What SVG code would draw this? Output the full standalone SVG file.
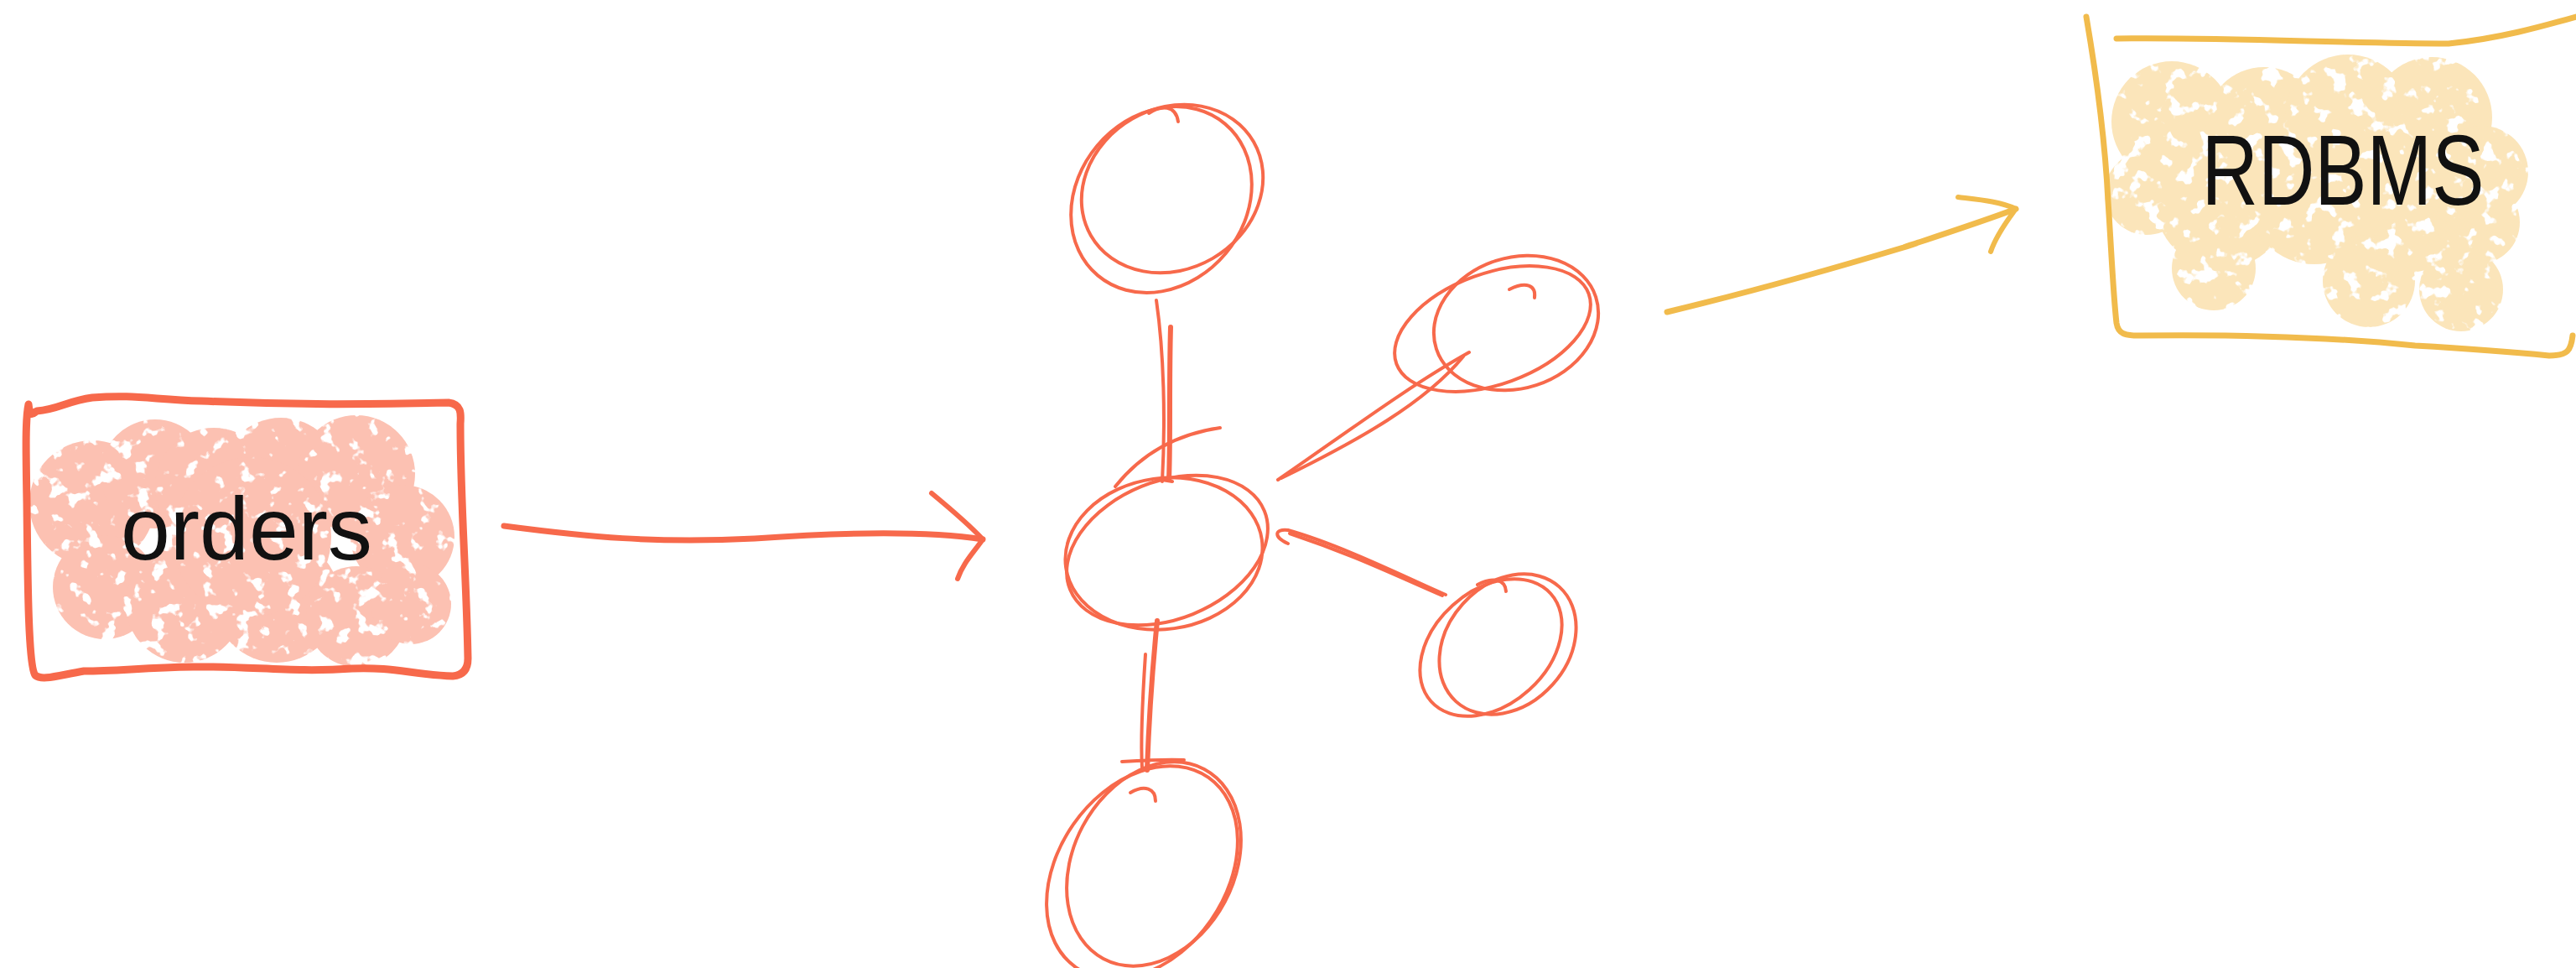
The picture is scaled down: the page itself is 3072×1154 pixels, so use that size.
<svg xmlns="http://www.w3.org/2000/svg" width="3072" height="1154" viewBox="0 0 3072 1154">
<style>
.red{fill:none;stroke:#f7694b;stroke-linecap:round;stroke-linejoin:round}
.yel{fill:none;stroke:#f1bb4c;stroke-linecap:round;stroke-linejoin:round}
.thin{stroke-width:4}
.lbl{font-family:"Liberation Sans",Arial,sans-serif;fill:#111;text-anchor:middle}
</style>
<defs>
<filter id="rough" x="-5%" y="-5%" width="110%" height="110%">
<feTurbulence type="fractalNoise" baseFrequency="0.05" numOctaves="3" seed="7" result="n"/>
<feColorMatrix in="n" type="matrix" values="0 0 0 0 0  0 0 0 0 0  0 0 0 0 0  -16 0 0 0 10.6" result="m"/>
<feComposite in="SourceGraphic" in2="m" operator="in"/>
</filter>
</defs>
<rect width="3072" height="1154" fill="#fff"/>

<g id="orders">
<g fill="#fcc1b2" filter="url(#rough)">
<circle cx="110" cy="600" r="75"/><circle cx="185" cy="565" r="65"/><circle cx="255" cy="580" r="70"/>
<circle cx="335" cy="570" r="72"/><circle cx="425" cy="565" r="70"/><circle cx="480" cy="640" r="62"/>
<circle cx="125" cy="700" r="62"/><circle cx="220" cy="720" r="70"/><circle cx="330" cy="715" r="75"/>
<circle cx="425" cy="735" r="60"/><circle cx="490" cy="720" r="48"/><circle cx="300" cy="640" r="95"/>
</g>
<path class="red" stroke-width="9" d="M34 482 C36 500 40 492 44 490 C70 488 80 478 110 474 C160 470 180 476 240 478 C350 483 440 482 535 480 C550 482 550 492 549 505 C549 600 556 680 558 785 C558 798 552 805 540 806 C490 804 470 795 420 797 C350 802 300 794 230 795 C170 796 140 800 100 800 C70 805 50 812 42 805 C34 795 33 700 32 600 C31 540 30 500 34 482"/>
<text class="lbl" x="294" y="667" font-size="106" textLength="300" lengthAdjust="spacingAndGlyphs">orders</text>
</g>

<g id="rdbms">
<g fill="#fbe5ba" filter="url(#rough)">
<circle cx="2590" cy="145" r="72"/><circle cx="2700" cy="150" r="70"/><circle cx="2800" cy="140" r="75"/>
<circle cx="2900" cy="140" r="72"/><circle cx="2960" cy="205" r="55"/>
<circle cx="2560" cy="230" r="50"/><circle cx="2650" cy="240" r="80"/><circle cx="2760" cy="235" r="80"/>
<circle cx="2870" cy="245" r="80"/><circle cx="2955" cy="265" r="50"/>
<circle cx="2640" cy="320" r="50"/><circle cx="2825" cy="335" r="55"/><circle cx="2935" cy="345" r="50"/>
</g>
<path class="yel" stroke-width="7" d="M2488 20 C2500 90 2510 160 2514 240 C2518 300 2520 350 2524 385 C2526 398 2534 400 2550 400 C2700 398 2800 404 2880 412 C2950 416 3000 420 3040 424 C3062 424 3066 418 3068 400"/>
<path class="yel" stroke-width="7" d="M2524 46 C2650 44 2800 52 2920 52 C2980 46 3030 32 3072 20"/>
<text class="lbl" x="2794" y="244" font-size="118" textLength="337" lengthAdjust="spacingAndGlyphs">RDBMS</text>
</g>

<g id="star-top">
<ellipse class="red thin" cx="1385" cy="238" rx="100" ry="118" transform="rotate(40 1385 238)"/>
<ellipse class="red thin" cx="1398" cy="225" rx="112" ry="96" transform="rotate(-30 1398 225)"/>
<path class="red thin" d="M1370 135 C1385 125 1402 125 1405 145"/>
</g>
<g id="star-center">
<ellipse class="red thin" cx="1392" cy="656" rx="125" ry="82" transform="rotate(-22 1392 656)"/>
<ellipse class="red thin" cx="1388" cy="660" rx="118" ry="90" transform="rotate(-8 1388 660)"/>
<path class="red thin" d="M1330 580 C1370 530 1420 515 1455 510"/>
</g>
<g id="star-upright">
<ellipse class="red thin" cx="1780" cy="392" rx="122" ry="66" transform="rotate(-20 1780 392)"/>
<ellipse class="red thin" cx="1808" cy="385" rx="100" ry="78" transform="rotate(-18 1808 385)"/>
<path class="red thin" d="M1800 345 C1820 335 1832 340 1830 355"/>
</g>
<g id="star-downright">
<ellipse class="red thin" cx="1778" cy="772" rx="96" ry="68" transform="rotate(-42 1778 772)"/>
<ellipse class="red thin" cx="1798" cy="768" rx="92" ry="72" transform="rotate(-48 1798 768)"/>
<path class="red thin" d="M1762 697 C1780 688 1795 690 1796 705"/>
</g>
<g id="star-bottom">
<ellipse class="red thin" cx="1362" cy="1040" rx="138" ry="100" transform="rotate(-55 1362 1040)"/>
<ellipse class="red thin" cx="1376" cy="1030" rx="128" ry="96" transform="rotate(-62 1376 1030)"/>
<path class="red thin" d="M1348 945 C1365 935 1378 940 1378 955"/>
</g>

<g id="connectors">
<path class="red" stroke-width="7" d="M601 627 C700 640 780 648 900 642 C1000 635 1100 632 1172 643"/>
<path class="red" stroke-width="6" d="M1111 588 C1140 612 1160 630 1172 643 C1160 660 1148 672 1142 690"/>
<path class="yel" stroke-width="7" d="M1988 372 C2080 350 2180 322 2270 295 C2330 275 2370 262 2404 249"/>
<path class="yel" stroke-width="6" d="M2335 235 C2360 238 2385 240 2404 249 C2392 265 2380 282 2374 300"/>
<path class="red thin" d="M1379 358 C1388 420 1390 500 1386 574"/>
<path class="red" stroke-width="6" d="M1396 390 C1394 460 1396 520 1394 572"/>
<path class="red thin" d="M1386 572 L1398 574"/>
<path class="red thin" d="M1524 572 C1600 520 1680 460 1752 420"/>
<path class="red thin" d="M1528 570 C1620 525 1700 480 1745 425"/>
<path class="red thin" d="M1536 648 C1518 640 1520 630 1536 632 C1600 650 1680 690 1724 709"/>
<path class="red thin" d="M1538 636 C1610 660 1660 684 1720 710"/>
<path class="red" stroke-width="6" d="M1380 740 C1374 800 1370 860 1368 918"/>
<path class="red thin" d="M1366 780 C1362 840 1360 880 1362 915"/>
<path class="red thin" d="M1338 908 C1370 906 1395 905 1412 906"/>
</g>
</svg>
